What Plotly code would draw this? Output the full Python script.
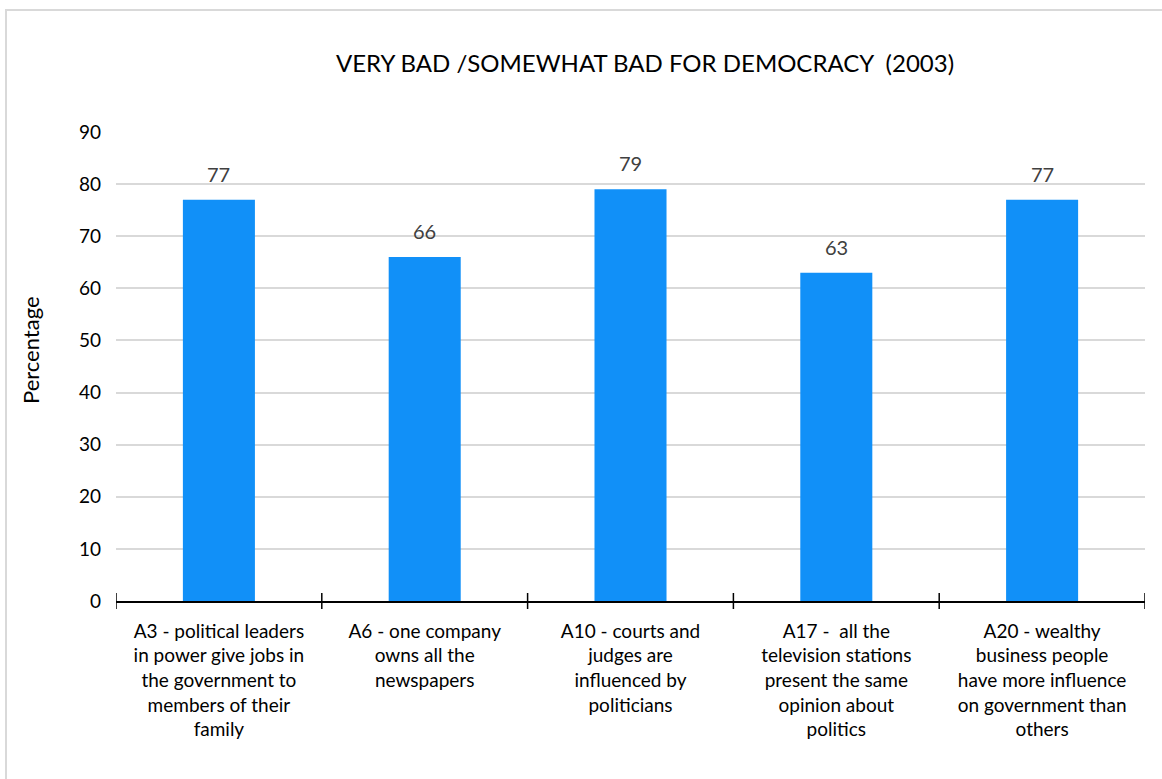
import plotly.graph_objects as go

categories = [
    "A3 - political leaders<br>in power give jobs in<br>the government to<br>members of their<br>family",
    "A6 - one company<br>owns all the<br>newspapers",
    "A10 - courts and<br>judges are<br>influenced by<br>politicians",
    "A17 -  all the<br>television stations<br>present the same<br>opinion about<br>politics",
    "A20 - wealthy<br>business people<br>have more influence<br>on government than<br>others",
]
values = [77, 66, 79, 63, 77]
title_text = "VERY BAD /SOMEWHAT BAD FOR DEMOCRACY  (2003)"
y_title = "Percentage"

FONT = "Lato, 'Open Sans', sans-serif"
n = len(categories)
xs = list(range(n))

fig = go.Figure(go.Bar(
    x=xs, y=values,
    marker=dict(color="#1190F8", line=dict(width=0)),
))

L, R, T, B = 116, 17, 132, 178
W, H = 1162, 779
pw, ph = W - L - R, H - T - B

shapes = []
# outer chart border
shapes.append(dict(type="rect", xref="paper", yref="paper",
                   x0=(6 - L) / pw, x1=(W + 5 - L) / pw,
                   y0=-(H + 5 - T - ph) / ph, y1=(H - 10 - B) / ph,
                   line=dict(color="#D9D9D9", width=2), fillcolor="rgba(0,0,0,0)", layer="below"))
# crossing tick marks at category boundaries
for i in range(n + 1):
    shapes.append(dict(type="line", xref="x", yref="paper",
                       x0=i - 0.5, x1=i - 0.5, y0=-8 / ph, y1=8 / ph,
                       line=dict(color="black", width=1.5)))

annotations = []
for xv, v in zip(xs, values):
    annotations.append(dict(x=xv, y=v, xref="x", yref="y", text=str(v), showarrow=False,
                            yanchor="middle", yshift=26,
                            font=dict(color="#404040", size=20, family=FONT)))
annotations.append(dict(x=(30 - L) / pw, y=(H - B - 350) / ph, xref="paper", yref="paper",
                        text=y_title, showarrow=False, textangle=-90,
                        xanchor="center", yanchor="middle",
                        font=dict(size=22, color="black", family=FONT)))

fig.update_layout(
    width=W, height=H,
    margin=dict(l=L, r=R, t=T, b=B),
    paper_bgcolor="white", plot_bgcolor="white",
    font=dict(family=FONT, color="black", size=19),
    title=dict(text=title_text, x=645 / W, xanchor="center",
               y=1 - 64 / H, yanchor="middle", font=dict(size=24, color="black", family=FONT)),
    bargap=0.65,
    showlegend=False,
    shapes=shapes,
    annotations=annotations,
)
fig.update_xaxes(
    range=[-0.5, n - 0.5], tickmode="array", tickvals=xs, ticktext=categories,
    showgrid=False, showline=True, linecolor="black", linewidth=1.5,
    ticks="", tickfont=dict(size=19, color="black"), zeroline=False,
    ticklabelstandoff=12,
)
fig.update_yaxes(
    range=[0, 90], dtick=10, showgrid=True, gridcolor="#D9D9D9", gridwidth=1.5,
    showline=False, zeroline=False, ticks="", ticklen=0,
    tickfont=dict(size=19, color="black"), ticklabelstandoff=14,
)

fig.write_html("out.html")
